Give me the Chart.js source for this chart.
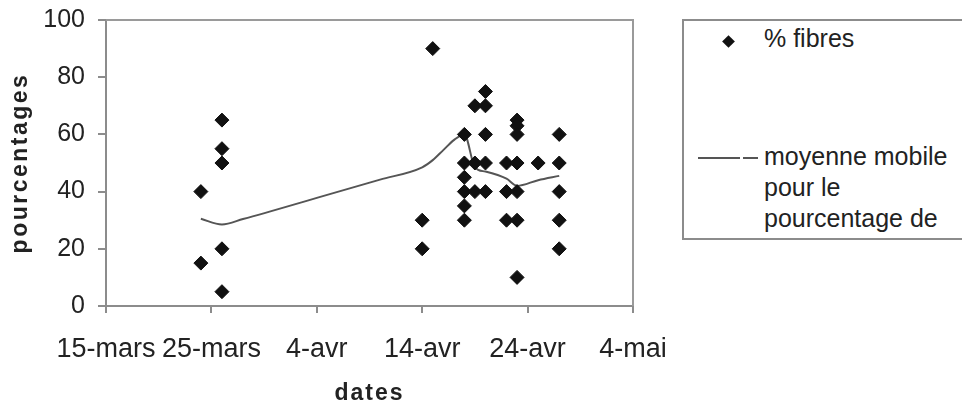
<!DOCTYPE html>
<html><head><meta charset="utf-8">
<script src="https://cdn.jsdelivr.net/npm/chart.js@4/dist/chart.umd.min.js"></script>
<style>
html,body{margin:0;padding:0;background:#fff;}
#wrap{position:relative;width:962px;height:410px;overflow:hidden;font-family:"Liberation Sans",Arial,sans-serif;color:#222;}
#c{position:absolute;left:0;top:0;}
#legend{position:absolute;left:682px;top:19px;width:282px;height:221px;border:2px solid #8c8c8c;box-sizing:border-box;background:#fff;}
.lt{position:absolute;left:764px;font-size:25px;line-height:31px;white-space:nowrap;}
#lmark{position:absolute;left:724px;top:37px;width:9px;height:9px;background:#111;transform:rotate(45deg);}
.lline{position:absolute;top:157px;height:2px;background:#555;}
</style></head>
<body>
<div id="wrap">
<canvas id="c" width="962" height="410"></canvas>
<div id="legend"></div>
<div id="lmark"></div>
<div class="lt" style="top:23px">% fibres</div>
<div class="lline" style="left:698px;width:42px"></div>
<div class="lline" style="left:743px;width:15px"></div>
<div class="lt" style="top:141px">moyenne mobile</div>
<div class="lt" style="top:172px">pour le</div>
<div class="lt" style="top:203px">pourcentage de</div>
</div>
<script>
// x tick labels (every 10 days from 15 March)
const tickLabels = ['15-mars', '25-mars', '4-avr', '14-avr', '24-avr', '4-mai'];
// "% fibres" observations
const fibreDates = [
  '24-mars','24-mars',
  '26-mars','26-mars','26-mars','26-mars','26-mars',
  '14-avr','14-avr',
  '15-avr',
  '18-avr','18-avr','18-avr','18-avr','18-avr','18-avr',
  '19-avr','19-avr','19-avr',
  '20-avr','20-avr','20-avr','20-avr','20-avr',
  '22-avr','22-avr','22-avr',
  '23-avr','23-avr','23-avr','23-avr','23-avr','23-avr','23-avr',
  '25-avr',
  '27-avr','27-avr','27-avr','27-avr','27-avr'
];
const fibreValues = [
  40, 15,
  65, 55, 50, 20, 5,
  30, 20,
  90,
  60, 50, 45, 40, 35, 30,
  70, 50, 40,
  75, 70, 60, 50, 40,
  50, 40, 30,
  65, 63, 60, 50, 40, 30, 10,
  50,
  60, 50, 40, 30, 20
];
// moving average trend line
const maDates = ['24-mars','26-mars','28-mars','4-avr','10-avr','14-avr','15-avr','16-avr','17-avr','18-avr','19-avr','20-avr','22-avr','23-avr','25-avr','27-avr'];
const maValues = [30.5, 28.5, 30.4, 37.8, 44.2, 48.5, 51, 54.5, 58, 60, 48.5, 47, 44.5, 42, 44, 45.5];

const monthStart = {mars: 0, avr: 31, mai: 61};
function dayOf(s) { const p = s.split('-'); return +p[0] + monthStart[p[1]] - 15; }

const fibrePts = fibreDates.map((d, i) => ({x: dayOf(d), y: fibreValues[i]}));
const maPts = maDates.map((d, i) => ({x: dayOf(d), y: maValues[i]}));

const titleSpacing = {x: 2, y: 2.5};
const framePlugin = {
  id: 'frame',
  beforeDraw(chart) {
    Object.values(chart.scales).forEach(s => {
      if (s._spaced) return;
      const orig = s.drawTitle;
      const sp = titleSpacing[s.id] || 0;
      s.drawTitle = function () {
        const ctx = this.ctx; ctx.save(); ctx.letterSpacing = sp + 'px'; orig.apply(this, arguments); ctx.restore();
      };
      s._spaced = true;
    });
  },
  beforeDatasetsDraw(chart) {
    const a = chart.chartArea, ctx = chart.ctx;
    ctx.save();
    ctx.strokeStyle = '#9a9a9a'; ctx.lineWidth = 2;
    ctx.beginPath();
    ctx.moveTo(a.left, a.top); ctx.lineTo(a.right, a.top); ctx.lineTo(a.right, a.bottom);
    ctx.stroke();
    ctx.restore();
  }
};

const FONT = "'Liberation Sans', Arial, sans-serif";
new Chart(document.getElementById('c'), {
  type: 'scatter',
  data: {
    datasets: [
      {
        label: '% fibres', data: fibrePts,
        pointStyle: 'rectRot', pointRadius: 7, pointBackgroundColor: '#111', pointBorderColor: '#111', pointBorderWidth: 1,
        showLine: false, order: 1
      },
      {
        label: 'moyenne mobile pour le pourcentage de % fibres', data: maPts,
        showLine: true, borderColor: '#555', borderWidth: 2, pointRadius: 0,
        cubicInterpolationMode: 'monotone', fill: false, order: 2
      }
    ]
  },
  options: {
    responsive: false, animation: false, devicePixelRatio: 1,
    layout: {padding: {top: 20, right: 329, left: 0, bottom: 0}},
    plugins: {legend: {display: false}, tooltip: {enabled: false}},
    scales: {
      x: {
        type: 'linear', min: 0, max: 50,
        afterFit(s) { s.height = 104; },
        ticks: {stepSize: 10, autoSkip: false, maxRotation: 0, padding: 20, color: '#222',
          font: {family: FONT, size: 27},
          callback: (v, i) => tickLabels[i]},
        grid: {drawOnChartArea: false, drawTicks: true, tickLength: 7, color: '#8c8c8c', lineWidth: 2},
        border: {display: true, color: '#8c8c8c', width: 2},
        title: {display: true, text: 'dates', color: '#222', font: {family: FONT, size: 23, weight: 'bold'}, padding: {top: 0, bottom: 3}}
      },
      y: {
        min: 0, max: 100,
        afterFit(s) { s.width = 106; s.paddingTop = 0; s.paddingBottom = 0; },
        ticks: {stepSize: 20, padding: 13, color: '#222', font: {family: FONT, size: 25}},
        grid: {drawOnChartArea: false, drawTicks: true, tickLength: 8, color: '#8c8c8c', lineWidth: 2},
        border: {display: true, color: '#8c8c8c', width: 2},
        title: {display: true, text: 'pourcentages', color: '#222', font: {family: FONT, size: 23, weight: 'bold'}, padding: {top: 7, bottom: 0}}
      }
    }
  },
  plugins: [framePlugin]
});
</script>
</body></html>
